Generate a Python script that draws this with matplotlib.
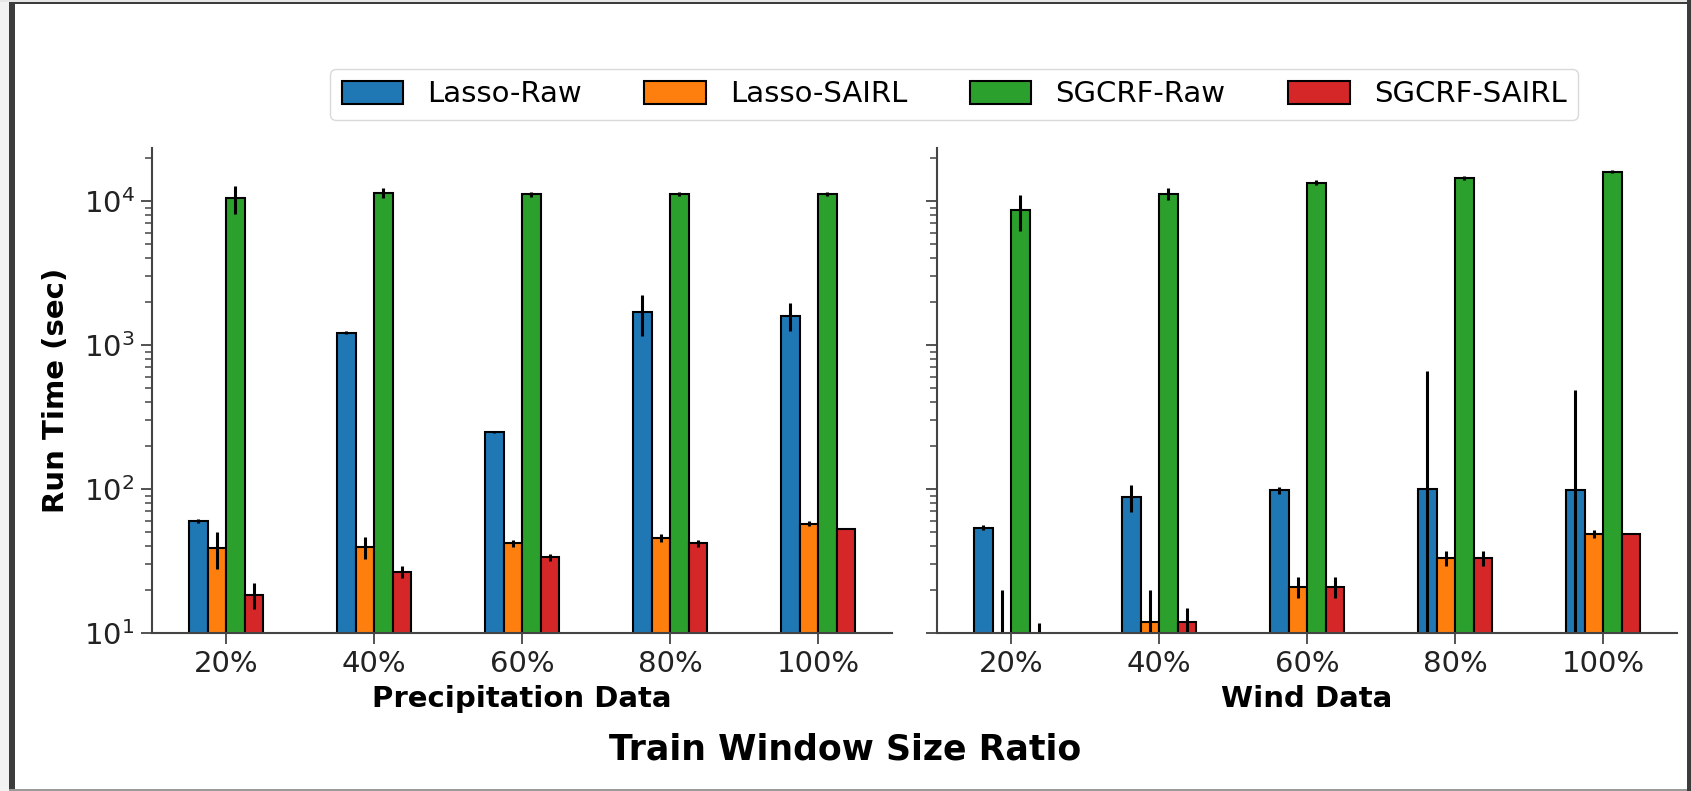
import numpy as np
import matplotlib.pyplot as plt
from matplotlib.patches import Rectangle, Patch

ratios = ["20%", "40%", "60%", "80%", "100%"]
methods = ["Lasso-Raw", "Lasso-SAIRL", "SGCRF-Raw", "SGCRF-SAIRL"]
colors = ["#1f77b4", "#ff7f0e", "#2ca02c", "#d62728"]

# precipitation data: mean run time (sec) and spread
precip_lasso_raw = [60, 1220, 250, 1690, 1600]
precip_lasso_raw_err = [2, 30, 4, 530, 350]
precip_lasso_sairl = [39, 39.5, 42, 45.5, 57.5]
precip_lasso_sairl_err = [11, 7, 2.5, 3, 2.5]
precip_sgcrf_raw = [10400, 11400, 11100, 11200, 11200]
precip_sgcrf_raw_err = [2300, 900, 400, 400, 400]
precip_sgcrf_sairl = [18.4, 26.5, 33.5, 42, 53]
precip_sgcrf_sairl_err = [3.8, 2.5, 2, 2.5, 0.5]

# wind data
wind_lasso_raw = [54, 88, 98, 100, 98]
wind_lasso_raw_err = [2, 19, 5, 560, 390]
wind_lasso_sairl = [7, 12, 21, 33, 48.5]
wind_lasso_sairl_err = [13, 8, 3.5, 4, 3]
wind_sgcrf_raw = [8600, 11200, 13400, 14400, 15900]
wind_sgcrf_raw_err = [2400, 1000, 500, 400, 400]
wind_sgcrf_sairl = [6, 12, 21, 33, 49]
wind_sgcrf_sairl_err = [5.8, 3, 3.5, 4, 0.5]

precip = [(precip_lasso_raw, precip_lasso_raw_err),
          (precip_lasso_sairl, precip_lasso_sairl_err),
          (precip_sgcrf_raw, precip_sgcrf_raw_err),
          (precip_sgcrf_sairl, precip_sgcrf_sairl_err)]
wind = [(wind_lasso_raw, wind_lasso_raw_err),
        (wind_lasso_sairl, wind_lasso_sairl_err),
        (wind_sgcrf_raw, wind_sgcrf_raw_err),
        (wind_sgcrf_sairl, wind_sgcrf_sairl_err)]

W, H = 1691, 791
fig = plt.figure(figsize=(W / 100, H / 100), dpi=100)

FS = 21
AXC = "#444444"
bar_w = 0.125
x = np.arange(len(ratios))


def draw_panel(ax, series, xlabel):
    for i, (vals, err) in enumerate(series):
        vals = np.array(vals, dtype=float)
        err = np.array(err, dtype=float)
        lower = np.minimum(err, vals * 0.999)
        ax.bar(x + (i - 1.5) * bar_w, vals, bar_w, color=colors[i],
               edgecolor="black", linewidth=1.5,
               yerr=[lower, err], error_kw=dict(elinewidth=2.2, ecolor="black", capsize=0))
    ax.set_yscale("log")
    ax.set_ylim(10, 2.33e4)
    ax.set_xlim(-0.5, 4.5)
    ax.set_xticks(x)
    ax.set_xticklabels(ratios, fontsize=FS)
    ax.set_xlabel(xlabel, fontsize=FS, fontweight="bold", labelpad=5)
    ax.tick_params(axis="both", which="major", labelsize=FS, length=8, width=1.3,
                   color=AXC, pad=4.5, labelcolor="#222222")
    ax.tick_params(axis="y", which="minor", length=5, width=1.1, color=AXC)
    for side in ["top", "right"]:
        ax.spines[side].set_visible(False)
    for side in ["left", "bottom"]:
        ax.spines[side].set_linewidth(1.5)
        ax.spines[side].set_color(AXC)


ax1 = fig.add_axes([152 / W, (H - 633) / H, 740 / W, 485 / H])
ax2 = fig.add_axes([937 / W, (H - 633) / H, 740 / W, 485 / H], sharey=ax1)

draw_panel(ax1, precip, "Precipitation Data")
draw_panel(ax2, wind, "Wind Data")
ax2.tick_params(axis="y", which="both", labelleft=False)
ax1.set_ylabel("Run Time (sec)", fontsize=FS, fontweight="bold", labelpad=10)

fig.text(0.5, (H - 760) / H, "Train Window Size Ratio", ha="center", va="baseline",
         fontsize=25, fontweight="bold")

handles = [Patch(facecolor=c, edgecolor="black", linewidth=1.5) for c in colors]
fig.legend(handles, methods, loc="center", bbox_to_anchor=(954 / W, (H - 94.5) / H),
           ncol=4, fontsize=FS, handlelength=2.1, handleheight=0.8,
           columnspacing=2.15, handletextpad=0.83, frameon=True,
           edgecolor="#d0d0d0", fancybox=True, borderpad=0.4)

# screenshot frame
fig.patches.append(Rectangle((9 / W, 0), 6 / W, 1, transform=fig.transFigure,
                             facecolor="#3c3c3c", edgecolor="none", zorder=10))
fig.patches.append(Rectangle((0, 0), 9 / W, 1, transform=fig.transFigure,
                             facecolor="#f2f2f2", edgecolor="none", zorder=10))
fig.patches.append(Rectangle((9 / W, (H - 4) / H), 1 - 9 / W, 2 / H, transform=fig.transFigure,
                             facecolor="#3c3c3c", edgecolor="none", zorder=10))
fig.patches.append(Rectangle((0, (H - 2) / H), 1, 2 / H, transform=fig.transFigure,
                             facecolor="#e6e6e6", edgecolor="none", zorder=10))
fig.patches.append(Rectangle((9 / W, 0), 1 - 9 / W, 2 / H, transform=fig.transFigure,
                             facecolor="#9a9a9a", edgecolor="none", zorder=10))
fig.patches.append(Rectangle((1 - 4 / W, 0), 4 / W, 1, transform=fig.transFigure,
                             facecolor="#3c3c3c", edgecolor="none", zorder=10))

fig.savefig("out.png", dpi=100)
